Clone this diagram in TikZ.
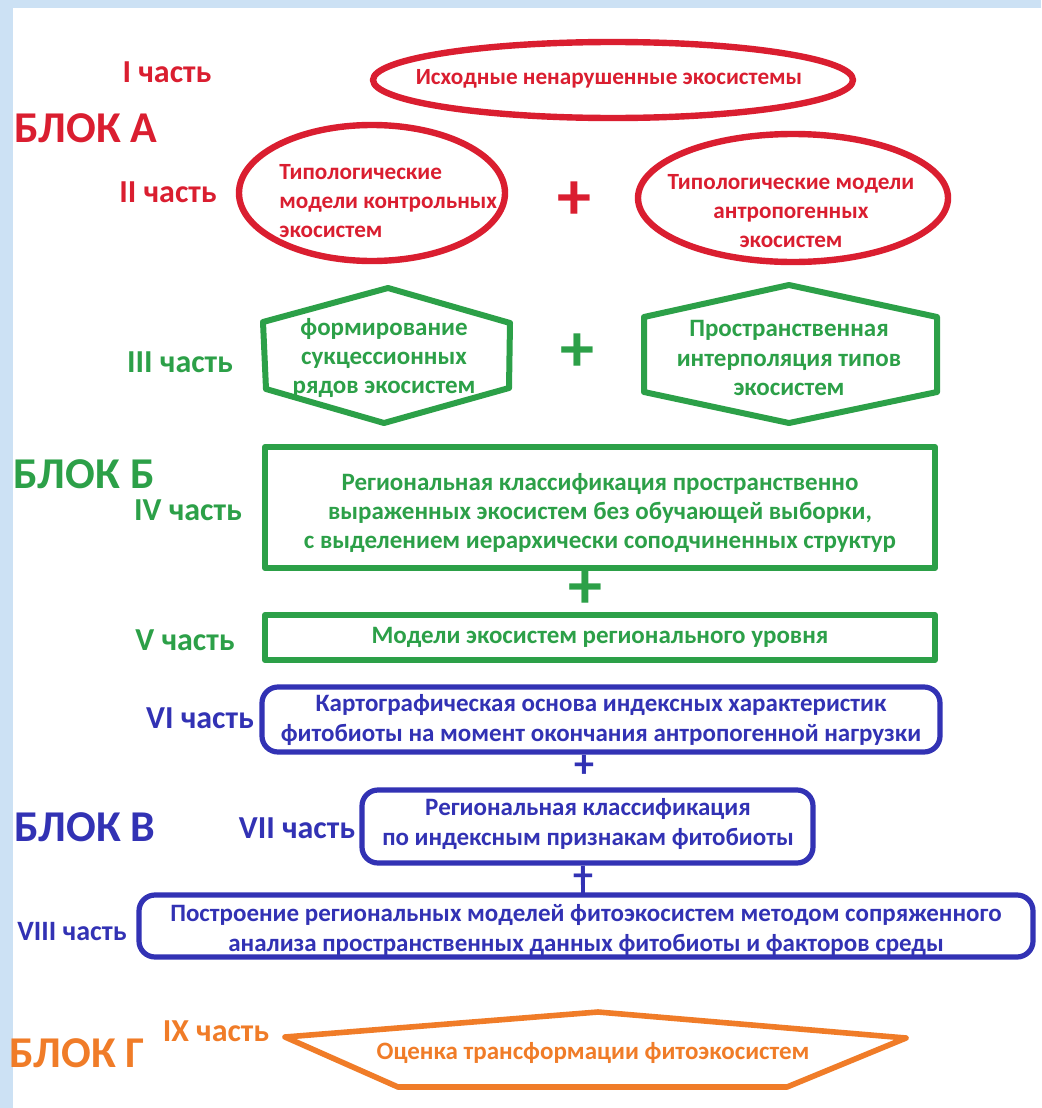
\documentclass[tikz,border=0pt]{standalone}
\usepackage{fontspec}
\setmainfont{Carlito}
\usetikzlibrary{shapes.geometric}
\definecolor{partred}{RGB}{218,30,48}
\definecolor{partgreen}{RGB}{44,160,72}
\definecolor{partblue}{RGB}{50,50,180}
\definecolor{partorange}{RGB}{240,124,40}
\definecolor{snowblue}{RGB}{204,225,244}
\begin{document}
\begin{tikzpicture}[x=.5pt,y=-.5pt,line join=round,line cap=round,
  lbl/.style={font=\bfseries\fontsize{16}{18}\selectfont,inner sep=0pt},
  blk/.style={font=\bfseries\fontsize{22}{24}\selectfont,inner sep=0pt},
  txt/.style={font=\bfseries\fontsize{12.5}{14.6}\selectfont,align=center,inner sep=0pt},
  redtxt/.style={txt,font=\bfseries\fontsize{11.6}{14.6}\selectfont},
  oval/.style={ellipse,draw,line width=3.2pt},
  box/.style={draw,line width=3pt},
  rbox/.style={draw,line width=2.6pt,rounded corners=8pt},
  bigplus/.style={font=\bfseries\fontsize{34}{34}\selectfont,inner sep=0pt},
  smallplus/.style={font=\bfseries\fontsize{20}{20}\selectfont,inner sep=0pt}]
\useasboundingbox (0,0) rectangle (1041,1108);
\fill[snowblue] (0,0) rectangle (1041,1108);
\fill[white] (13,8) rectangle (1041,1108);

% block A
\node[lbl,partred] (partI) at (167,72) {I часть};
\node[blk,partred] (blockA) at (86,128) {БЛОК А};
\node[lbl,partred] (partII) at (168,192) {II часть};
\node[oval,partred,minimum width=240pt,minimum height=38pt] (ellI) at (613,80) {};
\node[redtxt,partred] (ellItext) at (609,79) {Исходные ненарушенные экосистемы};
\node[oval,partred,minimum width=133pt,minimum height=68pt] (ellIIa) at (372,193) {};
\node[redtxt,partred,align=left,anchor=west] (ellIIatext) at (279,201)
  {Типологические\\модели контрольных\\экосистем};
\node[bigplus,partred] (plusA) at (574,201) {+};
\node[oval,partred,minimum width=155pt,minimum height=64pt] (ellIIb) at (793,198) {};
\node[redtxt,partred] (ellIIbtext) at (791,211)
  {Типологические модели\\антропогенных\\экосистем};

% block B
\node[lbl,partgreen] (partIII) at (180,362) {III часть};
\coordinate (hA1) at (388,288); \coordinate (hA2) at (510,323);
\coordinate (hA3) at (509,388); \coordinate (hA4) at (384,423);
\coordinate (hA5) at (266,389); \coordinate (hA6) at (263,322);
\draw[partgreen,line width=3pt] (hA1)--(hA2)--(hA3)--(hA4)--(hA5)--(hA6)--cycle;
\node[txt,partgreen] (hexA) at (384,358)
  {формирование\\сукцессионных\\рядов экосистем};
\node[bigplus,partgreen] (plusB) at (577,353) {+};
\coordinate (hB1) at (789,285); \coordinate (hB2) at (937,317);
\coordinate (hB3) at (937,392); \coordinate (hB4) at (789,423);
\coordinate (hB5) at (644,392); \coordinate (hB6) at (644,317);
\draw[partgreen,line width=3pt] (hB1)--(hB2)--(hB3)--(hB4)--(hB5)--(hB6)--cycle;
\node[txt,partgreen] (hexB) at (789,358)
  {Пространственная\\интерполяция типов\\экосистем};

\node[blk,partgreen] (blockB) at (84,474) {БЛОК Б};
\node[lbl,partgreen] (partIV) at (188,510) {IV часть};
\node[box,partgreen,minimum width=335pt,minimum height=60.5pt] (rectIV) at (600,507.5) {};
\node[txt,partgreen] (rectIVtext) at (600,513)
  {Региональная классификация пространственно\\выраженных экосистем без обучающей выборки,\\с выделением иерархически соподчиненных структур};
\node[bigplus,partgreen] (plusC) at (585,590) {+};
\node[lbl,partgreen] (partV) at (185,640) {V часть};
\node[box,partgreen,minimum width=335pt,minimum height=22.5pt] (rectV) at (600,637.5) {};
\node[txt,partgreen] (rectVtext) at (600,637) {Модели экосистем регионального уровня};

% block C
\node[lbl,partblue] (partVI) at (200,718) {VI часть};
\node[rbox,partblue,minimum width=339pt,minimum height=32.5pt] (rectVI) at (601,719.5) {};
\node[txt,partblue] (rectVItext) at (601,720)
  {Картографическая основа индексных характеристик\\фитобиоты на момент окончания антропогенной нагрузки};
\node[smallplus,partblue] (plusD) at (584,766) {+};
\node[blk,partblue] (blockC) at (85,827) {БЛОК В};
\node[lbl,partblue] (partVII) at (297,828) {VII часть};
\node[rbox,partblue,minimum width=225.5pt,minimum height=36.5pt] (rectVII) at (587.5,826.5) {};
\node[txt,partblue] (rectVIItext) at (588,824)
  {Региональная классификация\\по индексным признакам фитобиоты};
\node[smallplus,partblue] (plusE) at (583,877) {+};
\node[lbl,partblue,font=\bfseries\fontsize{14}{16}\selectfont] (partVIII) at (72,932) {VIII часть};
\node[rbox,partblue,minimum width=447pt,minimum height=31pt] (rectVIII) at (586,926) {};
\draw[partblue,line width=2pt] (plusE.center) -- (plusE.center |- rectVIII.north);
\node[txt,partblue] (rectVIIItext) at (586,930)
  {Построение региональных моделей фитоэкосистем методом сопряженного\\анализа пространственных данных фитобиоты и факторов среды};

% block D
\node[blk,partorange] (blockD) at (77,1053) {БЛОК Г};
\node[lbl,partorange] (partIX) at (216,1031) {IX часть};
\coordinate (pD1) at (285,1037); \coordinate (pD2) at (598,1012);
\coordinate (pD3) at (906,1038); \coordinate (pD4) at (787,1087);
\coordinate (pD5) at (398,1087);
\draw[partorange,line width=2.8pt] (pD1)--(pD2)--(pD3)--(pD4)--(pD5)--cycle;
\node[txt,partorange] (evalIX) at (593,1053) {Оценка трансформации фитоэкосистем};
\end{tikzpicture}
\end{document}
